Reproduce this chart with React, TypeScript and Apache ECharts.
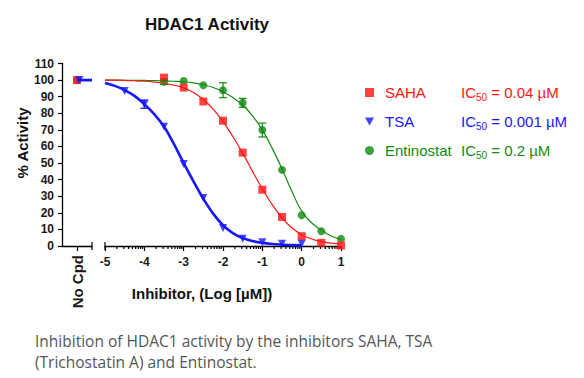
import React, { useEffect, useRef } from "react";
import * as echarts from "echarts";

const RED = "#ff1414";
const BLUE = "#1616ff";
const GREEN = "#128a12";

// measured log10 concentrations (µM) and % activity
const sahaX = [-3.5, -3, -2.5, -2, -1.5, -1, -0.5, 0, 0.5, 1];
const sahaY = [101.5, 95.5, 87.1, 75.5, 56.3, 33.9, 17.5, 5.9, 1.9, 0.3];
const tsaX = [-4.5, -4, -3.5, -3, -2.5, -2, -1.5, -1, -0.5, 0];
const tsaY = [93.5, 85.5, 71.9, 49.5, 28.9, 10.9, 4.3, 2.3, 1.3, 1.3];
const tsaErr = [0, 2.5, 0, 0, 0, 0, 0, 0, 0, 0];
const entX = [-3.5, -3, -2.5, -2, -1.5, -1, -0.5, 0, 0.5, 1];
const entY = [99.0, 99.5, 96.9, 93.9, 86.3, 69.9, 45.9, 18.5, 8.9, 4.3];
const entErr = [1.6, 0, 0, 4.5, 2.7, 4.2, 0, 0, 0, 0];

// "No Cpd" controls
const noCpdSaha = 100;
const noCpdTsa = 100;
const noCpdEnt = 100;

// fitted curves at quarter-log steps
const curveX = [
  -5, -4.75, -4.5, -4.25, -4, -3.75, -3.5, -3.25, -3, -2.75, -2.5, -2.25, -2,
  -1.75, -1.5, -1.25, -1, -0.75, -0.5, -0.25, 0, 0.25, 0.5, 0.75, 1,
];
const sahaCurve = [
  100, 100, 99.8, 99.6, 99.3, 98.8, 98.1, 97, 95.3, 92.5, 88.3, 82.5, 75,
  66, 56, 45, 34.5, 25, 17, 11, 6.8, 4.2, 2.6, 1.7, 1.2,
];
const tsaCurve = [
  98.3, 96.5, 94, 90.5, 85.5, 79.5, 72, 61.5, 50, 39, 28.5, 19.5, 12.5,
  7.8, 4.8, 3, 1.9, 1.2, 0.8, 0.5, 0.4,
];
const entCurve = [
  100, 100, 99.9, 99.9, 99.8, 99.7, 99.5, 99.3, 99, 98.3, 97.2, 95.5, 93,
  89.5, 85, 78.5, 70, 59, 46.5, 33, 21, 14, 9.5, 6, 4,
];

const xMajorTicks = [-5, -4, -3, -2, -1, 0, 1];
const minorMultipliers = [2, 3, 4, 5, 6, 7, 8, 9];

const pair = (xs: number[], ys: number[]) => ys.map((y, i) => [xs[i], y]);

export default function App() {
  const ref = useRef<HTMLDivElement>(null);
  useEffect(() => {
    if (!ref.current) return;
    const chart = echarts.init(ref.current, undefined, { renderer: "svg" });

    const minorTicks: number[][] = [];
    for (let d = -5; d < 1; d++) {
      minorMultipliers.forEach((m) => minorTicks.push([d + Math.log10(m), 0]));
    }

    const tickRender = (len: number, up: number) => (params: any, api: any) => {
      const p = api.coord([api.value(0), 0]);
      return {
        type: "line",
        shape: { x1: p[0], y1: p[1] - up, x2: p[0], y2: p[1] + len },
        style: { stroke: "#000", lineWidth: 1.2 },
      };
    };

    const errRender = (color: string) => (params: any, api: any) => {
      const e = api.value(2);
      if (!e) return null;
      const hi = api.coord([api.value(0), api.value(1) + e]);
      const lo = api.coord([api.value(0), api.value(1) - e]);
      const w = 4;
      return {
        type: "group",
        children: [
          { type: "line", shape: { x1: hi[0], y1: hi[1], x2: lo[0], y2: lo[1] }, style: { stroke: color, lineWidth: 1.2 } },
          { type: "line", shape: { x1: hi[0] - w, y1: hi[1], x2: hi[0] + w, y2: hi[1] }, style: { stroke: color, lineWidth: 1.2 } },
          { type: "line", shape: { x1: lo[0] - w, y1: lo[1], x2: lo[0] + w, y2: lo[1] }, style: { stroke: color, lineWidth: 1.2 } },
        ],
      };
    };

    const font = "Arial, 'Liberation Sans', sans-serif";
    const axisLabelStyle = { fontFamily: font, fontWeight: "bold" as const, fontSize: 12, color: "#1a1a1a" };

    const legendRich: any = {};
    const mk = (key: string, color: string) => {
      legendRich[key + "n"] = { color, fontSize: 15, fontFamily: font, width: 76, padding: [0, 0, 0, 6], lineHeight: 20, verticalAlign: "middle" };
      legendRich[key] = { color, fontSize: 15, fontFamily: font, lineHeight: 20, verticalAlign: "middle" };
      legendRich[key + "s"] = { color, fontSize: 10, fontFamily: font, lineHeight: 12, verticalAlign: "bottom" };
    };
    mk("a", RED);
    mk("b", BLUE);
    mk("c", GREEN);

    const ic50: Record<string, [string, string]> = {
      SAHA: ["a", "0.04"],
      TSA: ["b", "0.001"],
      Entinostat: ["c", "0.2"],
    };

    const curve = (xAxisIndex: number, data: number[][], color: string, width: number) => ({
      type: "line",
      xAxisIndex,
      yAxisIndex: xAxisIndex,
      data,
      smooth: 0.4,
      showSymbol: false,
      lineStyle: { color, width },
      silent: true,
    });

    chart.setOption({
      animation: false,
      backgroundColor: "#fff",
      title: {
        text: "HDAC1 Activity",
        left: 202,
        top: 11,
        textAlign: "center",
        textStyle: { fontFamily: font, fontWeight: "bold", fontSize: 17, color: "#111" },
      },
      legend: {
        data: [
          { name: "SAHA", icon: "rect" },
          { name: "TSA", icon: "path://M0,0 L10,0 L5,9 Z" },
          { name: "Entinostat", icon: "circle" },
        ],
        orient: "vertical",
        left: 360,
        top: 80,
        itemWidth: 9,
        itemHeight: 9,
        itemGap: 11.5,
        formatter: (name: string) => {
          const [k, v] = ic50[name];
          return `{${k}n|${name}}{${k}|IC}{${k}s|50}{${k}| = ${v} µM}`;
        },
        textStyle: { rich: legendRich },
      },
      grid: [
        { left: 62, top: 63.5, width: 30, height: 182.5 },
        { left: 105, top: 63.5, width: 236, height: 182.5 },
      ],
      xAxis: [
        {
          type: "value",
          gridIndex: 0,
          min: 0,
          max: 1,
          splitLine: { show: false },
          axisLine: { lineStyle: { color: "#000", width: 1.3 } },
          axisTick: { customValues: [0.5], length: 5, lineStyle: { color: "#000", width: 1.2 } },
          axisLabel: { customValues: [0.5], formatter: () => "No Cpd", rotate: 90, margin: 9, ...axisLabelStyle, fontSize: 15 },
        },
        {
          type: "value",
          gridIndex: 1,
          min: -5,
          max: 1,
          interval: 1,
          splitLine: { show: false },
          axisLine: { lineStyle: { color: "#000", width: 1.3 } },
          axisTick: { customValues: xMajorTicks, length: 5, lineStyle: { color: "#000", width: 1.2 } },
          axisLabel: { customValues: xMajorTicks, margin: 10, ...axisLabelStyle },
        },
      ],
      yAxis: [
        {
          type: "value",
          gridIndex: 0,
          min: 0,
          max: 110,
          interval: 10,
          splitLine: { show: false },
          axisLine: { show: true, lineStyle: { color: "#000", width: 1.3 } },
          axisTick: { show: true, length: 4, lineStyle: { color: "#000", width: 1.2 } },
          axisLabel: { margin: 8, ...axisLabelStyle },
        },
        { type: "value", gridIndex: 1, min: 0, max: 110, show: false },
      ],
      series: [
        // decoration: log minor ticks and axis-break bars
        { type: "custom", xAxisIndex: 1, yAxisIndex: 1, data: minorTicks, renderItem: tickRender(3, 0), silent: true, clip: false },
        { type: "custom", xAxisIndex: 1, yAxisIndex: 1, data: [[-5, 0]], renderItem: tickRender(4, 4), silent: true, clip: false },
        { type: "custom", xAxisIndex: 0, yAxisIndex: 0, data: [[1, 0]], renderItem: tickRender(4, 4), silent: true, clip: false },
        // fitted curves
        curve(1, pair(curveX, entCurve), GREEN, 1.2),
        curve(1, pair(curveX, sahaCurve), RED, 1.2),
        curve(1, pair(curveX, tsaCurve), BLUE, 2.6),
        curve(0, [[0.5, noCpdTsa], [1, noCpdTsa]], BLUE, 2.6),
        // error bars
        { type: "custom", xAxisIndex: 1, yAxisIndex: 1, data: entX.map((x, i) => [x, entY[i], entErr[i]]), renderItem: errRender(GREEN), silent: true },
        { type: "custom", xAxisIndex: 1, yAxisIndex: 1, data: tsaX.map((x, i) => [x, tsaY[i], tsaErr[i]]), renderItem: errRender(BLUE), silent: true },
        // points
        { name: "Entinostat", type: "scatter", xAxisIndex: 1, yAxisIndex: 1, data: pair(entX, entY), symbol: "circle", symbolSize: 8, itemStyle: { color: GREEN } },
        { name: "SAHA", type: "scatter", xAxisIndex: 1, yAxisIndex: 1, data: pair(sahaX, sahaY), symbol: "rect", symbolSize: 8, itemStyle: { color: RED } },
        { name: "TSA", type: "scatter", xAxisIndex: 1, yAxisIndex: 1, data: pair(tsaX, tsaY), symbol: "triangle", symbolRotate: 180, symbolSize: 8, itemStyle: { color: BLUE } },
        { type: "scatter", xAxisIndex: 0, yAxisIndex: 0, data: [[0.5, noCpdEnt]], symbol: "circle", symbolSize: 8, itemStyle: { color: GREEN } },
        { type: "scatter", xAxisIndex: 0, yAxisIndex: 0, data: [[0.5, noCpdSaha]], symbol: "rect", symbolSize: 8, itemStyle: { color: RED } },
        { type: "scatter", xAxisIndex: 0, yAxisIndex: 0, data: [[0.58, noCpdTsa]], symbol: "triangle", symbolRotate: 180, symbolSize: 8, itemStyle: { color: BLUE } },
      ],
      graphic: [
        {
          type: "text",
          x: 22.5,
          y: 143,
          rotation: Math.PI / 2,
          style: {
            text: "% Activity",
            font: `bold 15px ${font}`,
            fill: "#111",
            align: "center",
            verticalAlign: "middle",
          },
        },
        {
          type: "text",
          x: 202,
          y: 293,
          style: {
            text: "Inhibitor, (Log [µM])",
            font: `bold 15px ${font}`,
            fill: "#111",
            align: "center",
            verticalAlign: "middle",
          },
        },
        {
          type: "text",
          left: 35,
          top: 330,
          style: {
            text: "Inhibition of HDAC1 activity by the inhibitors SAHA, TSA\n(Trichostatin A) and Entinostat.",
            font: "15.5px 'Open Sans', sans-serif",
            fill: "#555",
            lineHeight: 21,
          },
        },
      ],
    });
    return () => chart.dispose();
  }, []);
  return <div ref={ref} style={{ position: "absolute", left: 0, top: 0, width: 584, height: 378 }} />;
}
